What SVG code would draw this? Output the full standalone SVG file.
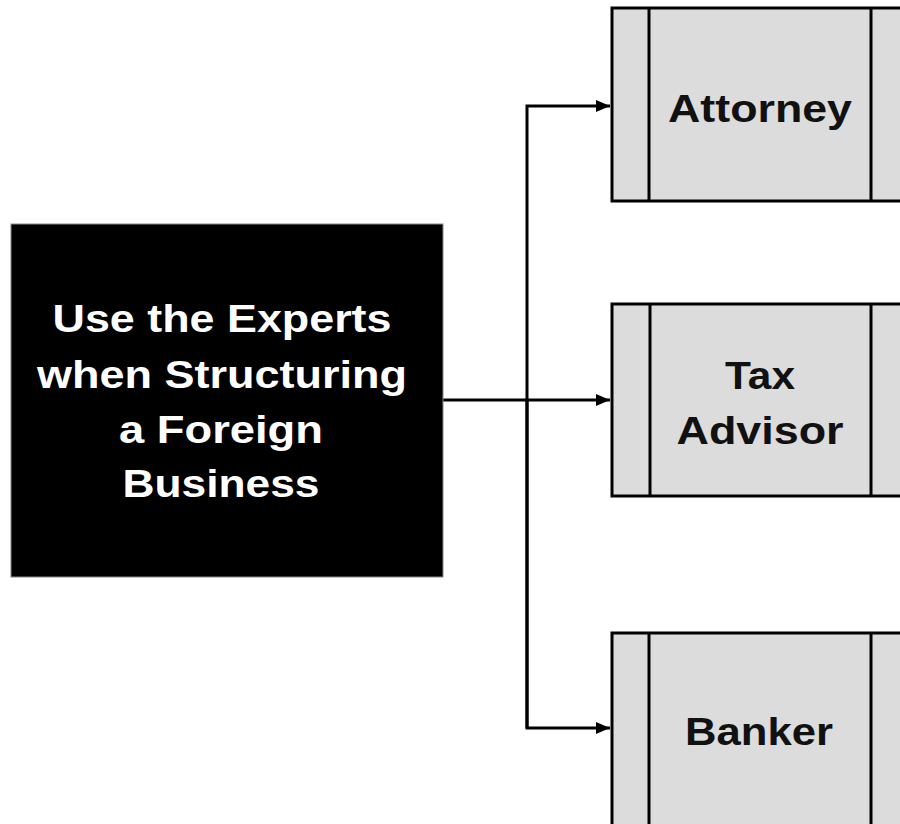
<svg xmlns="http://www.w3.org/2000/svg" width="900" height="824" viewBox="0 0 900 824">
<style>
.box{fill:#dcdcdc;stroke:#000;stroke-width:3}
.div{stroke:#000;stroke-width:3}
.lbl{font-family:"Liberation Sans",Arial,sans-serif;font-weight:bold;font-size:38px;text-anchor:middle;fill:#111}
.wl{fill:#fff}
.con{fill:none;stroke:#000;stroke-width:3}
</style>
<defs>
<marker id="ah" markerUnits="userSpaceOnUse" markerWidth="16" markerHeight="14" refX="14" refY="6" orient="auto">
<path d="M0,0 L14,6 L0,12 z" fill="#000"/>
</marker>
</defs>
<rect width="900" height="824" fill="#fff"/>
<g id="connectors">
<path class="con" d="M527,728 L527,106 L610,106" marker-end="url(#ah)"/>
<path class="con" d="M527,400 L527,728 L610,728" marker-end="url(#ah)"/>
<path class="con" d="M443,400 L610,400" stroke-width="2.5" marker-end="url(#ah)"/>
</g>
<g id="main">
<rect x="11" y="224" width="432" height="353" fill="#000" stroke="#888" stroke-width="1"/>
<text class="lbl wl" x="222" y="332" textLength="339" lengthAdjust="spacingAndGlyphs">Use the Experts</text>
<text class="lbl wl" x="222" y="388" textLength="370" lengthAdjust="spacingAndGlyphs">when Structuring</text>
<text class="lbl wl" x="221" y="443" textLength="204" lengthAdjust="spacingAndGlyphs">a Foreign</text>
<text class="lbl wl" x="221" y="497" textLength="197" lengthAdjust="spacingAndGlyphs">Business</text>
</g>
<g id="attorney">
<rect class="box" x="612" y="8" width="300" height="193"/>
<line class="div" x1="649" y1="8" x2="649" y2="201"/>
<line class="div" x1="871" y1="8" x2="871" y2="201"/>
<text class="lbl" x="760" y="122" textLength="184" lengthAdjust="spacingAndGlyphs">Attorney</text>
</g>
<g id="tax">
<rect class="box" x="612" y="304" width="300" height="192"/>
<line class="div" x1="650" y1="304" x2="650" y2="496"/>
<line class="div" x1="871" y1="304" x2="871" y2="496"/>
<text class="lbl" x="760" y="389" textLength="70" lengthAdjust="spacingAndGlyphs">Tax</text>
<text class="lbl" x="760" y="444" textLength="167" lengthAdjust="spacingAndGlyphs">Advisor</text>
</g>
<g id="banker">
<rect class="box" x="612" y="633" width="300" height="210"/>
<line class="div" x1="649" y1="633" x2="649" y2="830"/>
<line class="div" x1="871" y1="633" x2="871" y2="830"/>
<text class="lbl" x="759" y="745" textLength="148" lengthAdjust="spacingAndGlyphs">Banker</text>
</g>
</svg>
